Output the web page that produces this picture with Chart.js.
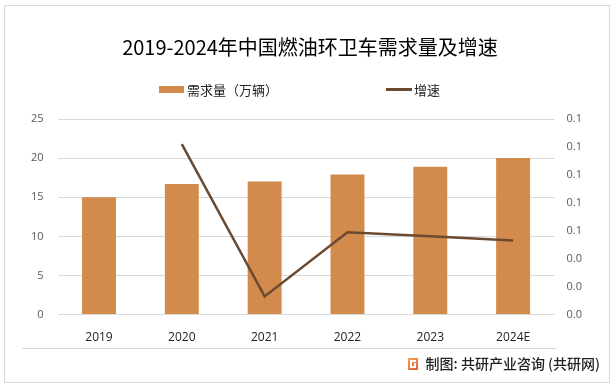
<!DOCTYPE html>
<html>
<head>
<meta charset="utf-8">
<script src="https://cdn.jsdelivr.net/npm/chart.js@4/dist/chart.umd.min.js"></script>
<style>
  html, body { margin: 0; padding: 0; background: #fff; }
  #wrap { width: 616px; height: 387px; position: relative; }
</style>
</head>
<body>
<div id="wrap"><canvas id="c" width="616" height="387"></canvas></div>
<script>
// -------- data --------
const years   = ["2019", "2020", "2021", "2022", "2023", "2024E"];
const demand  = [15.0, 16.7, 17.0, 17.9, 18.9, 20.0];
const growth  = [null, 0.122, 0.013, 0.059, 0.056, 0.053];
const titleText  = "2019-2024年中国燃油环卫车需求量及增速";
const barLabel   = "需求量（万辆）";
const lineLabel  = "增速";
const sourceText = "制图: 共研产业咨询 (共研网)";

const BAR_COLOR  = "#D28B4D";
const LINE_COLOR = "#6B4A30";
const CJK = '"Noto Sans CJK SC", "Noto Sans", sans-serif';

// -------- title / legend / footer drawn by hand --------
const decor = {
  id: "decor",
  afterDraw(chart) {
    const ctx = chart.ctx;
    ctx.save();
    // outer frame
    ctx.strokeStyle = "#d9d9d9";
    ctx.lineWidth = 1;
    ctx.strokeRect(4.5, 5.5, 605, 377);

    // title
    ctx.fillStyle = "#000";
    ctx.font = "20px " + CJK;
    ctx.textAlign = "center";
    ctx.textBaseline = "middle";
    ctx.fillText(titleText, 310, 47);

    // legend
    ctx.font = "13px " + CJK;
    ctx.textAlign = "left";
    ctx.fillStyle = BAR_COLOR;
    ctx.fillRect(159, 86, 25, 7);
    ctx.fillStyle = "#222";
    ctx.fillText(barLabel, 187, 90);
    ctx.strokeStyle = LINE_COLOR;
    ctx.lineWidth = 3;
    ctx.beginPath(); ctx.moveTo(386, 89.5); ctx.lineTo(412, 89.5); ctx.stroke();
    ctx.fillText(lineLabel, 414, 90);

    // footer separator
    ctx.strokeStyle = "#d9d9d9";
    ctx.lineWidth = 1;
    ctx.beginPath(); ctx.moveTo(22, 348.5); ctx.lineTo(556, 348.5); ctx.stroke();

    // footer icon
    const g = ctx.createLinearGradient(408, 358, 418, 370);
    g.addColorStop(0, "#F6A54E");
    g.addColorStop(1, "#EA5A3C");
    ctx.fillStyle = g;
    ctx.fillRect(408, 358, 10, 12);
    ctx.fillStyle = "#fff";
    ctx.fillRect(410, 360, 6, 2);
    ctx.fillRect(410, 360, 2, 8);
    ctx.fillRect(410, 366, 6, 2);
    ctx.fillRect(414, 363, 2, 4);

    // footer text
    ctx.fillStyle = "#222";
    ctx.font = "500 14px " + CJK;
    ctx.textAlign = "right";
    ctx.fillText(sourceText, 600, 364);
    ctx.restore();
  }
};

new Chart(document.getElementById("c").getContext("2d"), {
  data: {
    labels: years,
    datasets: [
      {
        type: "line", label: lineLabel, data: growth, yAxisID: "y1",
        borderColor: LINE_COLOR, borderWidth: 2.5, pointRadius: 0,
        tension: 0, spanGaps: false, order: 0
      },
      {
        type: "bar", label: barLabel, data: demand, yAxisID: "y",
        backgroundColor: BAR_COLOR, categoryPercentage: 1, barPercentage: 0.41, order: 1
      }
    ]
  },
  options: {
    responsive: false,
    animation: false,
    layout: { padding: { top: 119, left: 17, right: 22, bottom: 34 } },
    plugins: { legend: { display: false }, title: { display: false }, tooltip: { enabled: false } },
    scales: {
      x: {
        offset: true,
        grid: { display: false },
        border: { display: false },
        ticks: { color: "#222", font: { size: 12, family: '"Open Sans", sans-serif' }, padding: 8 }
      },
      y: {
        position: "left", min: 0, max: 25,
        ticks: { stepSize: 5, color: "#595959", font: { size: 11, family: '"Open Sans", sans-serif' }, padding: 14 },
        grid: { color: "#d9d9d9", drawTicks: false },
        border: { display: false }
      },
      y1: {
        position: "right", min: 0, max: 0.14,
        ticks: {
          stepSize: 0.02, color: "#595959", padding: 12,
          font: { size: 11, family: '"Open Sans", sans-serif' },
          callback: (v) => v.toFixed(1)
        },
        grid: { display: false, drawTicks: false },
        border: { display: false }
      }
    }
  },
  plugins: [decor]
});
</script>
</body>
</html>
